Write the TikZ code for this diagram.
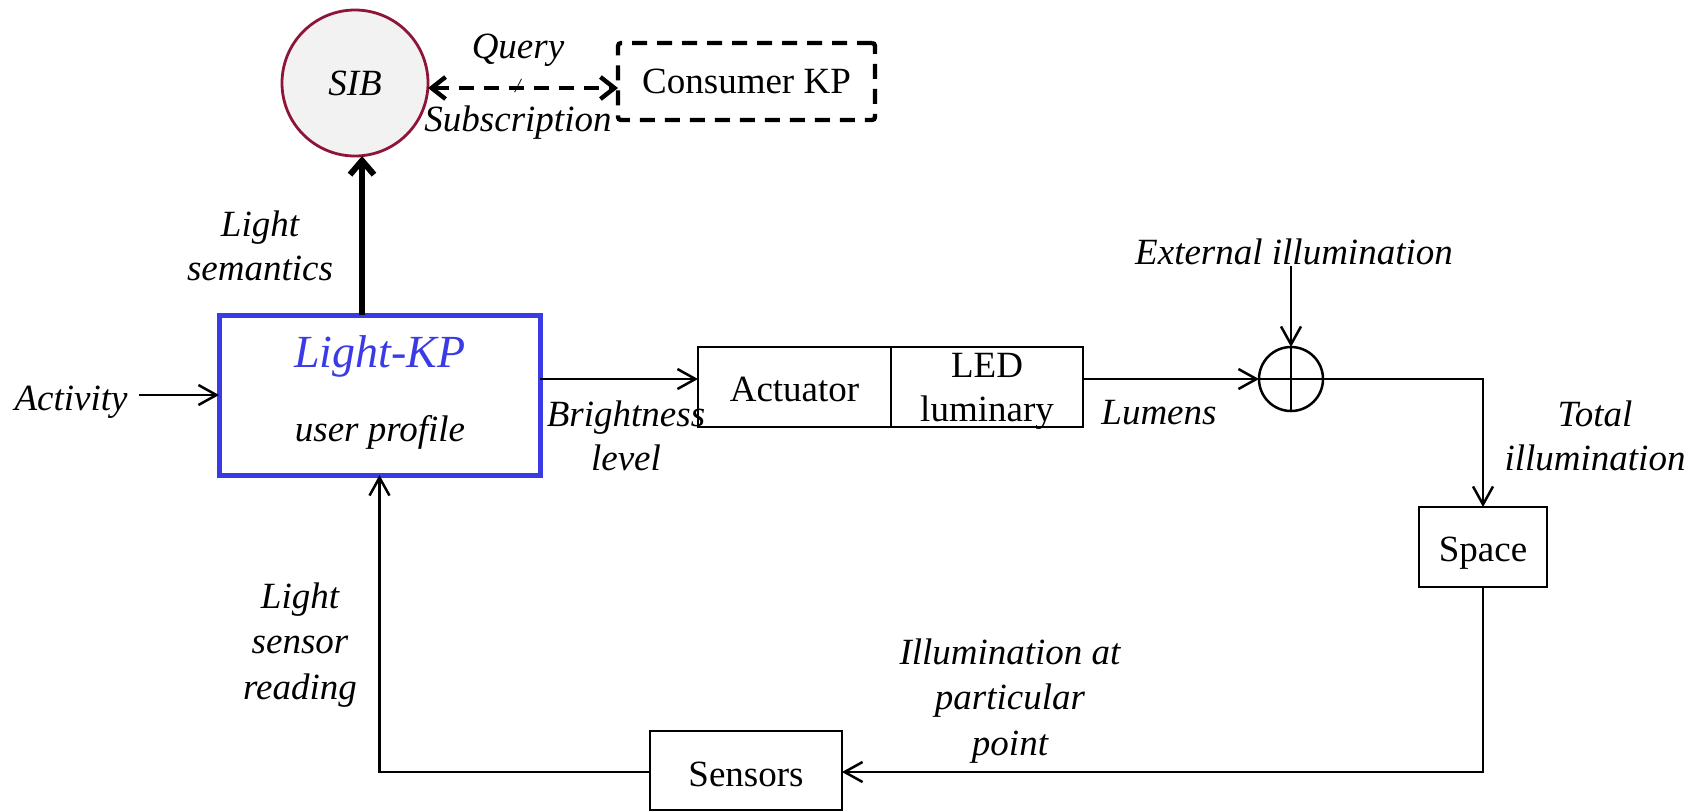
\documentclass[tikz,border=0pt]{standalone}
\usepackage{fontspec}
\setmainfont{Liberation Serif}
\usetikzlibrary{arrows.meta,calc}
\definecolor{kpblue}{HTML}{3B3BE6}
\definecolor{sibred}{HTML}{8E1538}
\definecolor{sibfill}{HTML}{F2F2F2}
\begin{document}
\begin{tikzpicture}[x=0.5pt,y=-0.5pt,
  font=\fontsize{18.5}{22}\selectfont,
  >={Straight Barb[length=9pt,width=10pt]},
  flow/.style={line width=1.25pt,->},
  block/.style={draw,line width=1.25pt,inner sep=0pt,outer sep=0pt},
  lbl/.style={font=\fontsize{18.5}{22}\selectfont\itshape,align=center,inner sep=0pt},
  txt/.style={inner sep=0pt,align=center},
]
\useasboundingbox (0,0) rectangle (1702,811);

% blocks
\node[draw=sibred,fill=sibfill,line width=1.4pt,circle,minimum size=73pt,inner sep=0pt,outer sep=0pt,
      font=\fontsize{18.5}{22}\selectfont\itshape] (sib) at (355,83) {SIB};
\node[block,line width=2.2pt,dash pattern=on 7.5pt off 5pt,rounded corners=1.5pt,
      minimum width=128.5pt,minimum height=38.5pt] (cons) at (746.5,81.5) {Consumer KP};
\node[block,draw=kpblue,line width=2.5pt,minimum width=160.5pt,minimum height=80pt] (lkp) at (379.5,395) {};
\node[inner sep=0pt,text=kpblue,font=\fontsize{23}{26}\selectfont\itshape] (lkptitle) at (380,356) {Light-KP};
\node[lbl] (lkpsub) at (380,432) {user profile};
\node[block,minimum width=96.5pt,minimum height=40pt] (act) at (794.5,387) {};
\node[txt] (acttext) at (794.5,389) {Actuator};
\node[block,minimum width=96pt,minimum height=40pt] (led) at (987,387) {};
\node[txt] (ledtext) at (987,391) {LED\\luminary};
\node[draw,line width=1.25pt,circle,minimum size=32pt,inner sep=0pt,outer sep=0pt] (sum) at (1291,379) {};
\draw[line width=1.25pt] (sum.north) -- (sum.south) (sum.west) -- (sum.east);
\node[block,minimum width=64pt,minimum height=40pt] (space) at (1483,547) {};
\node[txt] (spacetext) at (1483,553) {Space};
\node[block,minimum width=96pt,minimum height=39.5pt] (sensors) at (746,770.5) {};
\node[txt] (sensorstext) at (746,774) {Sensors};

% labels
\node[lbl] (query) at (518,50) {Query};
\node[lbl,font=\fontsize{10}{12}\selectfont\itshape] (slash) at (518,86) {/};
\node[lbl] (subs) at (518,123) {Subscription};
\node[lbl] (lsem) at (260,246) {Light\\semantics};
\node[lbl] (activity) at (71,402) {Activity};
\node[lbl] (bright) at (626,436) {Brightness\\level};
\node[lbl] (lumens) at (1159,413) {Lumens};
\node[lbl] (ext) at (1294,252) {External illumination};
\node[lbl] (total) at (1595,436) {Total\\illumination};
\node[lbl,font=\fontsize{18.5}{22.6}\selectfont\itshape] (ipp) at (1010,701) {Illumination at\\particular\\point};
\node[lbl,font=\fontsize{18.5}{22.8}\selectfont\itshape] (lsr) at (300,645) {Light\\sensor\\reading};

% free ends of the input arrows
\coordinate (actin) at (139,395);
\coordinate (extin) at (1291,266);

% connectors
\draw[line width=2.2pt,dash pattern=on 7.5pt off 5pt,
      {Straight Barb[length=7pt,width=11pt]}-{Straight Barb[length=7pt,width=11pt]}]
  ([yshift=-2.5pt]sib.east) -- ([yshift=-3.25pt]cons.west);
\draw[line width=3pt,-{Straight Barb[length=7pt,width=12pt]}]
  ([xshift=-8.75pt]lkp.north) -- ([xshift=-8.75pt]lkp.north |- sib.south);
\draw[flow] (actin) -- (lkp.west);
\draw[flow] (lkp.east |- sum) -- (act.west |- sum);
\draw[flow] (led.east |- sum) -- (sum.west);
\draw[flow] (extin) -- (sum.north);
\draw[flow] (sum.east) -| (space.north);
\draw[flow] (space.south) |- ([yshift=-0.75pt]sensors.east);
\draw[flow] ([yshift=-0.75pt]sensors.west) -| (lkp.south);
\end{tikzpicture}
\end{document}
